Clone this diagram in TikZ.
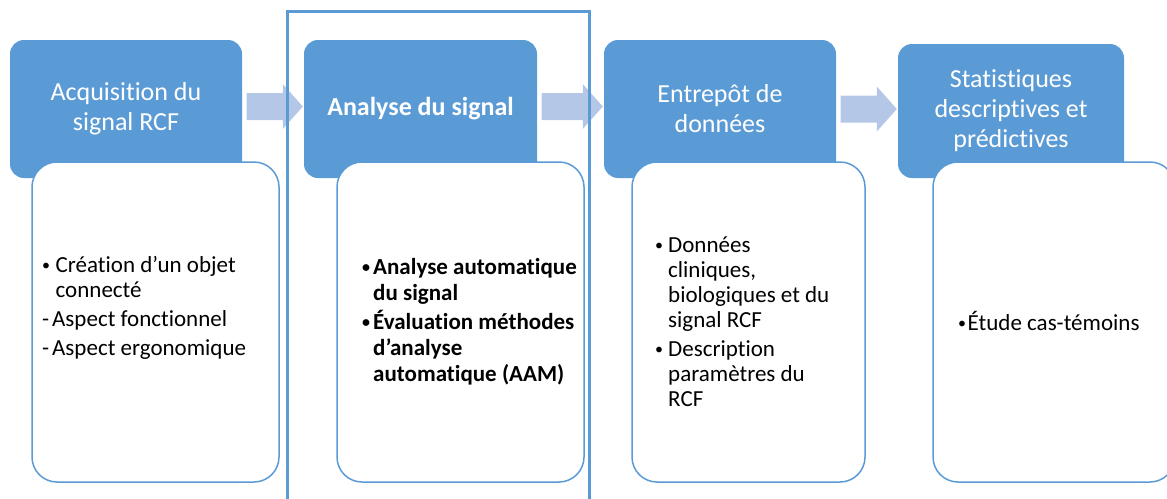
\documentclass[tikz,border=0pt]{standalone}
\usepackage{fontspec}
\setmainfont{Carlito}[Ligatures={NoCommon,NoRequired,NoContextual}]
\usetikzlibrary{calc}
\definecolor{hblue}{HTML}{5B9BD5}
\definecolor{ablue}{HTML}{B4C7E7}
\newcommand{\smallbul}{{\fontsize{16}{16}\selectfont\raisebox{1.6pt}{•}}}
\newcommand{\hitem}[2]{\par\hangindent=#1\hangafter=1\noindent\makebox[#1][l]{\smallbul}#2\par}
\newcommand{\ditem}[2]{\par\noindent\makebox[#1][l]{-}#2\par}
\newcommand{\blkarrow}[3]{%
  \fill[blk] let \p1=(#1.east), \p2=(#2.west) in
    (\x1+4.5pt,\y1+#3+13.5pt) -- (\x2-21pt,\y1+#3+13.5pt) -- (\x2-21pt,\y1+#3+22.5pt)
    -- (\x2-1pt,\y1+#3) -- (\x2-21pt,\y1+#3-22.5pt) -- (\x2-21pt,\y1+#3-13.5pt)
    -- (\x1+4.5pt,\y1+#3-13.5pt) -- cycle;}
\tikzset{
  hdr/.style={fill=hblue, rounded corners=14pt, text=white, align=center,
    font=\fontsize{26}{30}\selectfont, inner sep=0pt},
  cbox/.style={draw=hblue, line width=1.5pt, fill=white, rounded corners=25pt, inner sep=0pt},
  ctext/.style={anchor=base west, inner sep=0pt, text=black},
  blk/.style={fill=ablue},
  hlbox/.style={draw=hblue, line width=3pt}
}
\begin{document}
\begin{tikzpicture}[x=1pt,y=-1pt]
\useasboundingbox (0,0) rectangle (1167,498);
\clip (0,0) rectangle (1167,498);
% headers
\node[hdr, minimum width=232pt, minimum height=138pt] (h1) at (126,109) {Acquisition du\\signal RCF};
\node[hdr, minimum width=233pt, minimum height=138pt, font=\fontsize{26}{30}\selectfont\bfseries] (h2) at (420.5,109) {Analyse du signal};
\node[hdr, minimum width=232pt, minimum height=138pt] (h3) at (720,109) {Entrepôt de\\données};
\node[hdr, minimum width=226pt, minimum height=134pt] (h4) at (1011,111) {Statistiques\\descriptives et\\prédictives};
% content boxes
\node[cbox, minimum width=247pt, minimum height=320pt] (c1) at (155.5,322) {};
\node[cbox, minimum width=247pt, minimum height=320pt] (c2) at (460.5,322) {};
\node[cbox, minimum width=233pt, minimum height=320pt] (c3) at (748.5,322) {};
\node[cbox, minimum width=242pt, minimum height=320pt] (c4) at (1054,322) {};
% content texts
\node[ctext] (t1) at (42,272) {\parbox[t]{230pt}{\fontsize{23}{25}\selectfont\parskip=4pt
  \hitem{13.5pt}{Création d’un objet\\connecté}
  \ditem{10pt}{Aspect fonctionnel}
  \ditem{10pt}{Aspect ergonomique}}};
\node[ctext] (t2) at (362,274) {\parbox[t]{215pt}{\fontsize{23}{26}\selectfont\bfseries\parskip=3pt
  \hitem{11pt}{Analyse automatique\\du signal}
  \hitem{11pt}{Évaluation méthodes\\d’analyse\\automatique (AAM)}}};
\node[ctext] (t3) at (655,252) {\parbox[t]{200pt}{\fontsize{23}{25}\selectfont\parskip=4pt
  \hitem{13pt}{Données\\cliniques,\\biologiques et du\\signal RCF}
  \hitem{13pt}{Description\\paramètres du\\RCF}}};
\node[ctext] (t4) at (958,330) {\parbox[t]{200pt}{\fontsize{23}{25}\selectfont
  \hitem{9.5pt}{Étude cas-témoins}}};
% block arrows
\blkarrow{h1}{h2}{2.5pt}
\blkarrow{h2}{h3}{2.5pt}
\blkarrow{h3}{h4}{0pt}
% highlight frame
\draw[hlbox] (287,11.5) rectangle (589.5,520);
\end{tikzpicture}
\end{document}
